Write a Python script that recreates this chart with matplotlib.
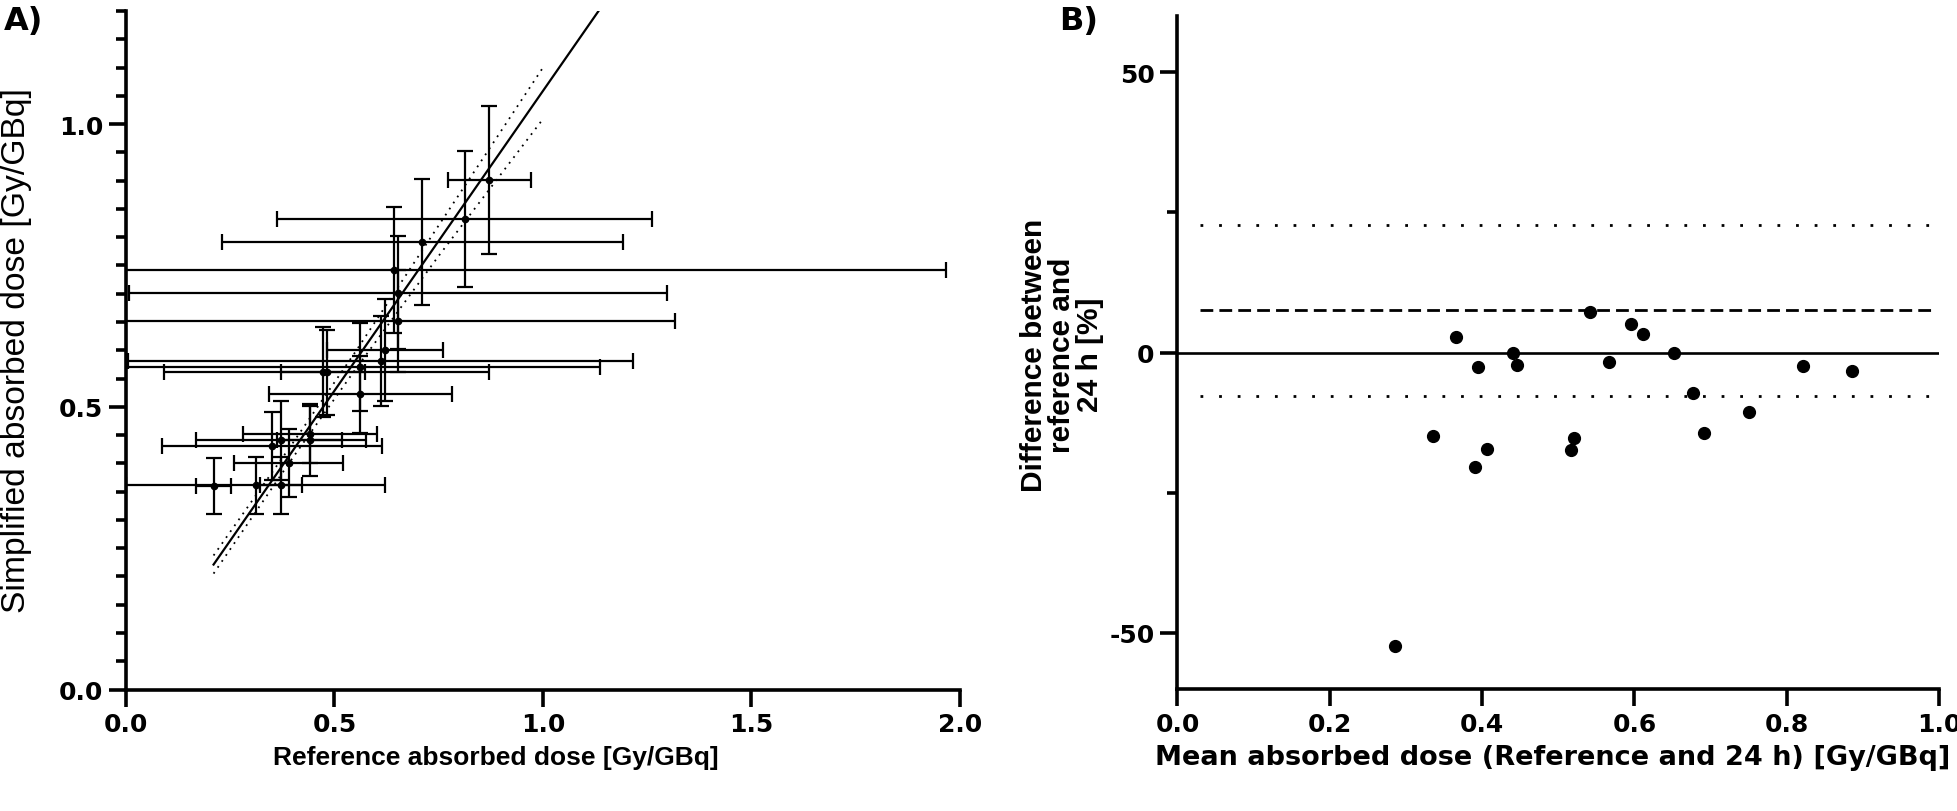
import matplotlib
matplotlib.use('Agg')
import matplotlib.pyplot as plt
from matplotlib.ticker import MultipleLocator, FormatStrFormatter

plt.rcParams['axes.unicode_minus'] = False

# Panel A - reference vs simplified (24 h) absorbed dose [Gy/GBq]
ref_dose = [0.210, 0.311, 0.371, 0.351, 0.390, 0.371, 0.441, 0.441, 0.472, 0.481,
            0.562, 0.561, 0.611, 0.621, 0.652, 0.652, 0.642, 0.711, 0.812, 0.871]
simp_dose = [0.360, 0.361, 0.361, 0.431, 0.400, 0.441, 0.441, 0.451, 0.562, 0.561,
             0.522, 0.571, 0.581, 0.601, 0.652, 0.702, 0.742, 0.791, 0.832, 0.901]
ref_err = [0.041, 0.310, 0.050, 0.264, 0.130, 0.204, 0.078, 0.160, 0.100, 0.390,
           0.220, 0.576, 0.606, 0.140, 0.665, 0.645, 1.325, 0.480, 0.450, 0.100]
simp_err = [0.050, 0.050, 0.050, 0.060, 0.060, 0.070, 0.064, 0.050, 0.080, 0.075,
            0.068, 0.078, 0.080, 0.090, 0.090, 0.100, 0.112, 0.111, 0.121, 0.131]

# fitted line and dotted 95% band
fit_x = [0.21, 1.136]
fit_y = [0.221, 1.203]
band_x = [0.21, 0.40, 0.55, 0.75, 1.00]
band_upper = [0.237, 0.436, 0.597, 0.821, 1.100]
band_lower = [0.205, 0.410, 0.566, 0.767, 1.009]

# Panel B - Bland-Altman
mean_dose = [0.285, 0.336, 0.366, 0.391, 0.395, 0.406, 0.441, 0.446, 0.517, 0.521,
             0.542, 0.566, 0.596, 0.611, 0.652, 0.677, 0.692, 0.751, 0.822, 0.886]
diff_pct = [-52.3, -14.8, 2.75, -20.4, -2.5, -17.2, 0.0, -2.2, -17.4, -15.2,
            7.3, -1.7, 5.0, 3.3, 0.0, -7.3, -14.4, -10.6, -2.4, -3.3]
bias_line = 7.5
loa_upper = 22.8
loa_lower = -7.8

W, H = 1958, 812
fig = plt.figure(figsize=(W / 100, H / 100), dpi=100)

heavy = {'family': 'DejaVu Sans', 'weight': 'bold'}
arial_b = {'family': 'Liberation Sans', 'weight': 'bold'}


def style_axes(ax):
    for s in ['top', 'right']:
        ax.spines[s].set_visible(False)
    for s in ['left', 'bottom']:
        ax.spines[s].set_linewidth(2.6)
    ax.tick_params(which='major', direction='out', length=12.5, width=2.6,
                   labelsize=18, pad=4)
    ax.tick_params(which='minor', direction='out', length=7.5, width=2.6)
    for lab in ax.get_xticklabels() + ax.get_yticklabels():
        lab.set_fontfamily('DejaVu Sans')
        lab.set_fontweight('bold')


# ---- panel A
axA = fig.add_axes([126 / W, 1 - 690.5 / H, 834 / W, 678.5 / H])
axA.errorbar(ref_dose, simp_dose, xerr=ref_err, yerr=simp_err, fmt='o', color='black',
             ms=4.5, elinewidth=1.6, capsize=6, capthick=1.6, zorder=3)
axA.plot(fit_x, fit_y, color='black', lw=1.6, zorder=4)
axA.plot(band_x, band_upper, color='black', lw=1.3, linestyle=(0, (1, 3)), zorder=4)
axA.plot(band_x, band_lower, color='black', lw=1.3, linestyle=(0, (1, 3)), zorder=4)
axA.set_xlim(0, 2.0)
axA.set_ylim(0, 1.2)
axA.xaxis.set_major_locator(MultipleLocator(0.5))
axA.yaxis.set_major_locator(MultipleLocator(0.5))
axA.yaxis.set_minor_locator(MultipleLocator(0.05))
axA.xaxis.set_major_formatter(FormatStrFormatter('%.1f'))
axA.yaxis.set_major_formatter(FormatStrFormatter('%.1f'))
style_axes(axA)

# ---- panel B
axB = fig.add_axes([1177.5 / W, 1 - 690 / H, 761.5 / W, 673 / H])
axB.plot([0, 1.0], [0, 0], color='black', lw=1.9)
axB.plot([0.03, 0.99], [bias_line, bias_line], color='black', lw=2, linestyle=(0, (4.6, 2.2)))
axB.plot([0.03, 1.0], [loa_upper, loa_upper], color='black', lw=2, linestyle=(0, (1, 5.7)))
axB.plot([0.03, 1.0], [loa_lower, loa_lower], color='black', lw=2, linestyle=(0, (1, 5.7)))
axB.plot(mean_dose, diff_pct, 'o', color='black', ms=8.5, zorder=3)
axB.set_xlim(0, 1.0)
axB.set_ylim(-60, 60)
axB.xaxis.set_major_locator(MultipleLocator(0.2))
axB.yaxis.set_major_locator(MultipleLocator(50))
axB.yaxis.set_minor_locator(MultipleLocator(25))
axB.xaxis.set_major_formatter(FormatStrFormatter('%.1f'))
style_axes(axB)

# ---- labels
fig.text(496 / W, 1 - 758 / H, 'Reference absorbed dose [Gy/GBq]', ha='center', va='center',
         fontsize=19, **arial_b)
fig.text(17 / W, 1 - 351 / H, 'Simplified absorbed dose [Gy/GBq]', ha='center', va='center',
         rotation=90, fontsize=24.2, family=['Liberation Sans Narrow', 'Liberation Sans'])
fig.text(1553 / W, 1 - 758 / H, 'Mean absorbed dose (Reference and 24 h) [Gy/GBq]',
         ha='center', va='center', fontsize=19.5, **heavy)
fig.text(1062 / W, 1 - 355 / H, 'Difference between\nreference and\n24 h [%]',
         ha='center', va='center', rotation=90, fontsize=21.5, multialignment='center',
         linespacing=1.0, **arial_b)

fig.text(4 / W, 1 - 6 / H, 'A)', ha='left', va='top', fontsize=23, **heavy)
fig.text(1059 / W, 1 - 6 / H, 'B)', ha='left', va='top', fontsize=23, **heavy)

fig.savefig('out.png', dpi=100)
